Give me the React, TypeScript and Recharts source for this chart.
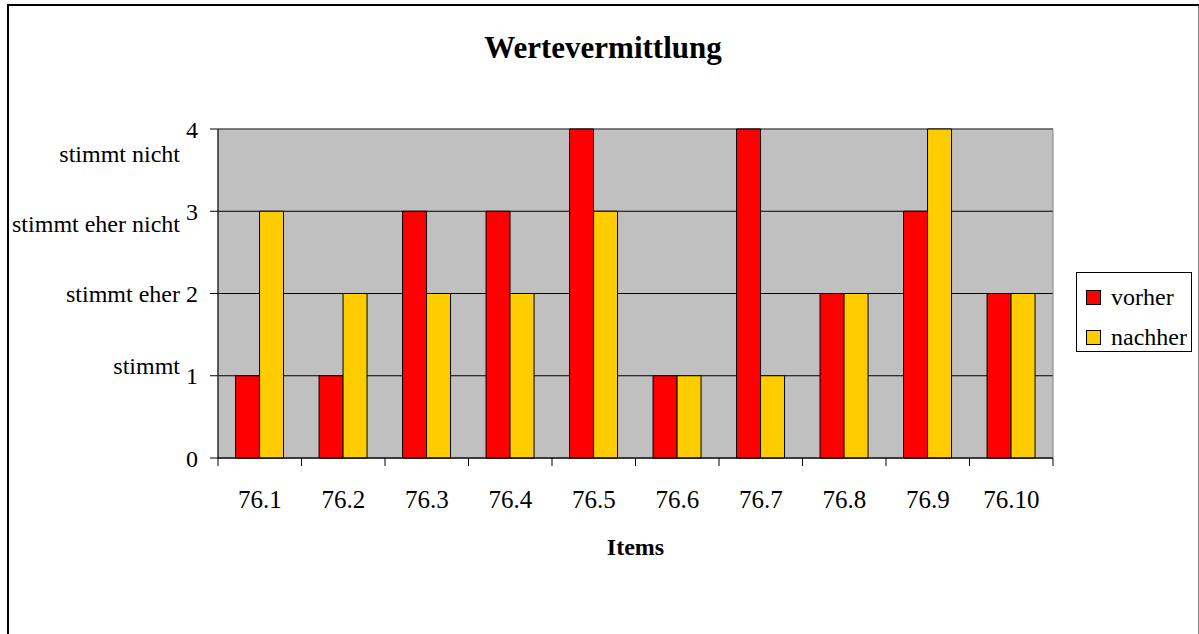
import React from 'react';
import { BarChart, Bar, XAxis, YAxis, CartesianGrid, Legend, ReferenceLine, ReferenceArea } from 'recharts';

const items = ['76.1', '76.2', '76.3', '76.4', '76.5', '76.6', '76.7', '76.8', '76.9', '76.10'];
const vorher = [1, 1, 3, 3, 4, 1, 4, 2, 3, 2];
const nachher = [3, 2, 2, 2, 3, 1, 1, 2, 4, 2];
const seriesNames = ['vorher', 'nachher'];
const yTicks = [0, 1, 2, 3, 4];
const answerLabels = ['stimmt', 'stimmt eher', 'stimmt eher nicht', 'stimmt nicht'];
const answerLabelPos = [1.13, 2.0, 2.85, 3.7];

const data = items.map((item, i) => ({ item, vorher: vorher[i], nachher: nachher[i] }));

const FONT = '"Liberation Serif", "Times New Roman", Times, serif';

function XTick(props: any) {
  const { x, y, payload, index } = props;
  const half = payload && typeof payload.offset === 'number' ? payload.offset : 0;
  const top = y - 10;
  return (
    <g>
      <line x1={x - half} x2={x - half} y1={top} y2={top + 8} stroke="#000" strokeWidth={1} />
      {index === items.length - 1 && (
        <line x1={x + half} x2={x + half} y1={top} y2={top + 8} stroke="#000" strokeWidth={1} />
      )}
      <text x={x} y={y} dy={40} textAnchor="middle" fontSize={25} fontFamily={FONT} fill="#000">
        {payload.value}
      </text>
    </g>
  );
}

function LegendBox(props: any) {
  const payload = [...(props.payload || [])].sort(
    (a: any, b: any) => seriesNames.indexOf(a.value) - seriesNames.indexOf(b.value)
  );
  return (
    <div
      style={{
        width: 116,
        height: 80,
        border: '1px solid #000',
        background: '#fff',
        boxSizing: 'border-box',
        position: 'relative',
        fontFamily: FONT,
        fontSize: 24,
        color: '#000',
      }}
    >
      {payload.map((p: any, i: number) => (
        <div key={p.value} style={{ position: 'absolute', left: 9, top: 11 + i * 40, height: 26, display: 'flex', alignItems: 'center' }}>
          <div style={{ width: 15, height: 15, background: p.color, border: '1px solid #000', boxSizing: 'border-box' }} />
          <span style={{ marginLeft: 10, lineHeight: '26px' }}>{p.value}</span>
        </div>
      ))}
    </div>
  );
}

export default function App() {
  return (
    <div style={{ position: 'absolute', left: 0, top: 0, width: 1199, height: 634, overflow: 'hidden', background: '#fff' }}>
      <div
        style={{
          position: 'absolute',
          left: 7,
          top: 4,
          width: 1193,
          height: 700,
          boxSizing: 'border-box',
          borderLeft: '2px solid #000',
          borderTop: '2px solid #000',
          borderRight: '2px solid #808080',
        }}
      />
      <svg width={1199} height={634} style={{ position: 'absolute', left: 0, top: 0, pointerEvents: 'none' }}>
        <text x={603} y={58} textAnchor="middle" fontSize={31} fontWeight="bold" fontFamily={FONT} fill="#000">
          Wertevermittlung
        </text>
      </svg>
      <div style={{ position: 'absolute', left: 0, top: 0 }}>
        <BarChart
          width={1199}
          height={634}
          data={data}
          margin={{ top: 129, right: 146, left: 178, bottom: 76 }}
          barCategoryGap="21%"
          barGap={0}
        >
          <CartesianGrid vertical={false} stroke="#000" fill="#C0C0C0" fillOpacity={1} />
          <ReferenceArea y1={0} y2={4} fill="none" stroke="#808080" strokeWidth={1} ifOverflow="visible" />
          <XAxis
            dataKey="item"
            tickLine={false}
            axisLine={{ stroke: '#000' }}
            tickSize={8}
            tickMargin={2}
            height={100}
            interval={0}
            tick={<XTick />}
            label={{ value: 'Items', position: 'insideBottom', offset: 3, fontSize: 24, fontWeight: 'bold', fontFamily: FONT, fill: '#000' }}
          />
          <YAxis
            type="number"
            domain={[0, 4]}
            ticks={yTicks}
            width={40}
            tickSize={8}
            tickMargin={12}
            tickLine={{ stroke: '#000' }}
            axisLine={{ stroke: '#000' }}
            tick={{ fontSize: 24, fontFamily: FONT, fill: '#000' }}
          />
          {answerLabels.map((lab, i) => (
            <ReferenceLine
              key={lab}
              y={answerLabelPos[i]}
              stroke="none"
              ifOverflow="visible"
              label={{ value: lab, position: 'left', offset: 38, fontSize: 24, fontFamily: FONT, fill: '#000' }}
            />
          ))}
          <Bar dataKey="vorher" name="vorher" fill="#FF0000" stroke="#000" strokeWidth={1} isAnimationActive={false} />
          <Bar dataKey="nachher" name="nachher" fill="#FFCC00" stroke="#000" strokeWidth={1} isAnimationActive={false} />
          <Legend
            layout="vertical"
            align="center"
            verticalAlign="middle"
            content={<LegendBox />}
            wrapperStyle={{ left: 1076, top: 272, width: 118, height: 82 }}
          />
        </BarChart>
      </div>
    </div>
  );
}
